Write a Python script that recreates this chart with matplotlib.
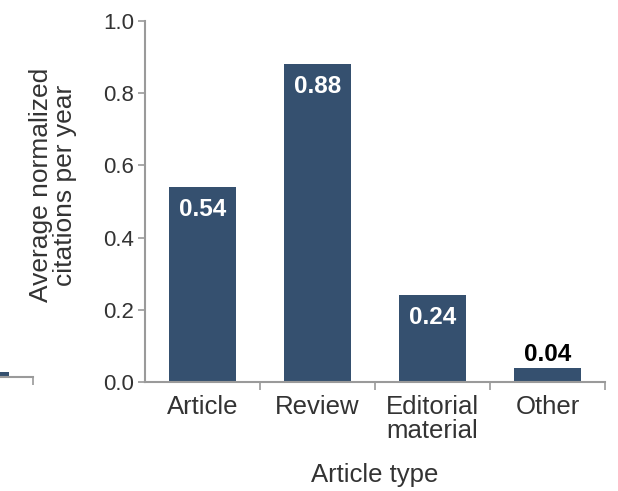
import matplotlib.pyplot as plt
import numpy as np

plt.rcParams['font.family'] = ['Liberation Sans', 'DejaVu Sans']

categories = ['Article', 'Review', 'Editorial\nmaterial', 'Other']
citations = [0.54, 0.88, 0.24, 0.04]
yticks = [0.0, 0.2, 0.4, 0.6, 0.8, 1.0]
# last bar of the neighbouring panel, only its edge shows
prev_value = [0.014]

bar_col = '#35506f'
axis_col = '#9a9a9a'
text_col = '#333333'

W, H = 618, 491
fig = plt.figure(figsize=(W / 100, H / 100), dpi=100)

# main panel, placed in pixel units
x0, x1, y0, y1 = 145, 605, 382, 21
ax = fig.add_axes([x0 / W, 1 - y0 / H, (x1 - x0) / W, (y0 - y1) / H])
x = np.arange(len(categories))
ax.bar(x, citations, width=0.58, color=bar_col)
ax.set_xlim(-0.5, len(categories) - 0.5)
ax.set_ylim(0, 1.0)

for xi, v in zip(x, citations):
    if v > 0.1:
        ax.annotate(f'{v:.2f}', (xi, v), xytext=(0, -8), textcoords='offset points',
                    ha='center', va='top', color='white', fontsize=17.5, fontweight='bold')
    else:
        ax.annotate(f'{v:.2f}', (xi, v), xytext=(0, 1), textcoords='offset points',
                    ha='center', va='bottom', color='black', fontsize=17.5, fontweight='bold')

for s in ['top', 'right']:
    ax.spines[s].set_visible(False)
for s in ['left', 'bottom']:
    ax.spines[s].set_color(axis_col)
    ax.spines[s].set_linewidth(1.5)

ax.set_yticks(yticks)
ax.set_yticklabels([f'{t:.1f}' for t in yticks])
ax.tick_params(axis='y', colors=axis_col, labelcolor=text_col, labelsize=16,
               length=5, width=1.2, pad=3)
ax.set_xticks(x)
ax.set_xticklabels(categories, linespacing=1.05)
ax.tick_params(axis='x', which='major', length=0, labelsize=18.5, labelcolor=text_col, pad=9)
ax.set_xticks(np.arange(0.5, len(categories), 1.0), minor=True)
ax.tick_params(axis='x', which='minor', length=6, width=1.2, color=axis_col)

ax.set_xlabel('Article type', fontsize=18.5, color=text_col, labelpad=14)
ax.set_ylabel('Average normalized\ncitations per year', fontsize=19,
              color=text_col, linespacing=1.0)
ax.yaxis.set_label_coords(-0.148, 0.546)

# edge of the neighbouring panel on the left
px = 115.0
ax0 = fig.add_axes([(33 - 2 * px) / W, 1 - 377 / H, 2 * px / W, (y0 - y1) / H])
ax0.bar([0], prev_value, width=0.58, color=bar_col)
ax0.set_xlim(-1.5, 0.5)
ax0.set_ylim(0, 1.0)
for s in ['top', 'right', 'left']:
    ax0.spines[s].set_visible(False)
ax0.spines['bottom'].set_color(axis_col)
ax0.spines['bottom'].set_linewidth(1.5)
ax0.set_yticks([])
ax0.set_xticks([0.5])
ax0.set_xticklabels([''])
ax0.tick_params(axis='x', length=6, width=1.2, color=axis_col)
ax0.patch.set_visible(False)

fig.savefig('out.png', dpi=100)
